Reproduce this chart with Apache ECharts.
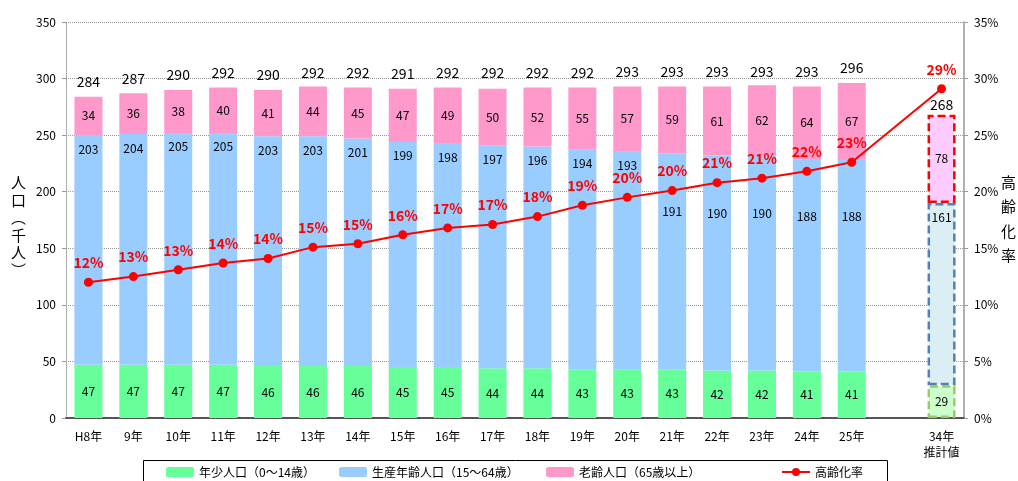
<!DOCTYPE html>
<html><head><meta charset="utf-8">
<script src="https://cdn.jsdelivr.net/npm/echarts@6/dist/echarts.min.js"></script>
<style>html,body{margin:0;padding:0;background:#fff}#c{width:1018px;height:481px}</style>
</head><body><div id="c"></div>
<script>
const categories = ['H8年','9年','10年','11年','12年','13年','14年','15年','16年','17年','18年','19年','20年','21年','22年','23年','24年','25年','','34年\n推計値'];
const youth   = [47,47,47,47,46,46,46,45,45,44,44,43,43,43,42,42,41,41,null,29];
const working = [203,204,205,205,203,203,201,199,198,197,196,194,193,191,190,190,188,188,null,161];
const elderly = [34,36,38,40,41,44,45,47,49,50,52,55,57,59,61,62,64,67,null,78];
const totals  = [284,287,290,292,290,292,292,291,292,292,292,292,293,293,293,293,293,296,null,268];
const agingRate = [12.0,12.5,13.1,13.7,14.1,15.1,15.4,16.2,16.8,17.1,17.8,18.8,19.5,20.1,20.8,21.2,21.8,22.6,null,29.1];
const leftTicks = [0,50,100,150,200,250,300,350];
const rightTicks = [0,5,10,15,20,25,30,35];
const seriesNames = ['年少人口（0～14歳）','生産年齢人口（15～64歳）','老齢人口（65歳以上）','高齢化率'];

const PROJ = 19;
const FONT = '"Noto Sans CJK JP", sans-serif';
const projStyles = [
  {color:'#ccffcc', borderColor:'#99cc66'},
  {color:'#dbeef4', borderColor:'#4f81bd'},
  {color:'#ffccff', borderColor:'#ff0000'}
];
function barData(arr, k){
  return arr.map((v,i)=>{
    if(i===PROJ) return {value:v, itemStyle:{color:projStyles[k].color, borderColor:projStyles[k].borderColor, borderWidth:2.5, borderType:[8,4]}};
    if(k===1 && i>=13 && i<=17) return {value:v, label:{distance:52}};
    return v;
  });
}
const chart = echarts.init(document.getElementById('c'));
const lblBase = {show:true, color:'#000', fontSize:12, fontFamily:FONT};
const legTxt = {fontSize:12,color:'#000',fontFamily:FONT};
chart.setOption({
  animation:false,
  textStyle:{fontFamily:FONT},
  grid:{left:66,right:54,top:22,bottom:63},
  legend:[
    {data:[seriesNames[0]], left:161, top:461, itemWidth:28, itemHeight:10, textStyle:legTxt},
    {data:[seriesNames[1]], left:334, top:461, itemWidth:28, itemHeight:10, textStyle:legTxt},
    {data:[seriesNames[2]], left:541, top:461, itemWidth:28, itemHeight:10, textStyle:legTxt},
    {data:[seriesNames[3]], left:776, top:461, itemWidth:28, itemHeight:10, textStyle:legTxt}
  ],
  graphic:[
    {type:'rect', shape:{x:143.5,y:460.5,width:744,height:30}, style:{fill:'none',stroke:'#000',lineWidth:1}},
    {type:'text', left:11, top:174, style:{text:'人\n口\n︵\n千\n人\n︶', font:'15px '+FONT, fill:'#000', lineHeight:17.5, align:'center'}},
    {type:'text', left:1001, top:170, style:{text:'高\n齢\n化\n率', font:'15px '+FONT, fill:'#000', lineHeight:24.5}}
  ],
  xAxis:{
    type:'category', data:categories,
    axisLine:{lineStyle:{color:'#555',width:2}},
    axisTick:{show:false},
    axisLabel:{color:'#000',fontSize:12,fontFamily:FONT,margin:10,lineHeight:16,interval:0}
  },
  yAxis:[
    {type:'value',min:0,max:350,interval:50,
     axisLine:{show:true,lineStyle:{color:'#999',type:'dotted'}},
     axisTick:{show:true,length:4,lineStyle:{color:'#999'}},
     splitLine:{lineStyle:{color:'#999',type:'dotted'}},
     axisLabel:{color:'#000',fontSize:12,fontFamily:FONT,margin:10,
       formatter:v=>leftTicks.includes(v)?String(v):''}},
    {type:'value',min:0,max:35,interval:5,position:'right',
     axisLine:{show:true,lineStyle:{color:'#999',width:1.5}},
     axisTick:{show:true,length:4,inside:false,lineStyle:{color:'#999'}},
     splitLine:{show:false},
     axisLabel:{color:'#000',fontSize:12,fontFamily:FONT,margin:10,
       formatter:v=>rightTicks.includes(v)?v+'%':''}}
  ],
  series:[
    {name:seriesNames[0],type:'bar',stack:'p',barWidth:28,data:barData(youth,0),
     itemStyle:{color:'#66ff99'},
     label:Object.assign({},lblBase,{position:'inside'})},
    {name:seriesNames[1],type:'bar',stack:'p',barWidth:28,data:barData(working,1),
     itemStyle:{color:'#99ccff'},
     label:Object.assign({},lblBase,{position:'insideTop',distance:8})},
    {name:seriesNames[2],type:'bar',stack:'p',barWidth:28,data:barData(elderly,2),
     itemStyle:{color:'#ff99cc'},
     label:Object.assign({},lblBase,{position:'inside'})},
    {name:'total',type:'scatter',symbolSize:2,itemStyle:{color:'rgba(255,255,255,0)'},silent:true,z:5,
     data:totals.map((v,i)=>i===PROJ?{value:v,label:{distance:2}}:v),
     label:{show:true,position:'top',distance:7,color:'#000',opacity:1,fontSize:14,fontWeight:'normal',fontFamily:FONT,
       formatter:p=>p.value==null?'':String(p.value)}},
    {name:seriesNames[3],type:'line',yAxisIndex:1,data:agingRate,connectNulls:true,z:6,
     symbol:'circle',symbolSize:9,
     lineStyle:{color:'#ff0000',width:2},itemStyle:{color:'#ff0000'},
     label:{show:true,position:'top',distance:8,color:'#ff0000',fontSize:14,fontWeight:'bold',fontFamily:FONT,
       formatter:p=>Math.round(p.value)+'%'}}
  ]
});
</script></body></html>
